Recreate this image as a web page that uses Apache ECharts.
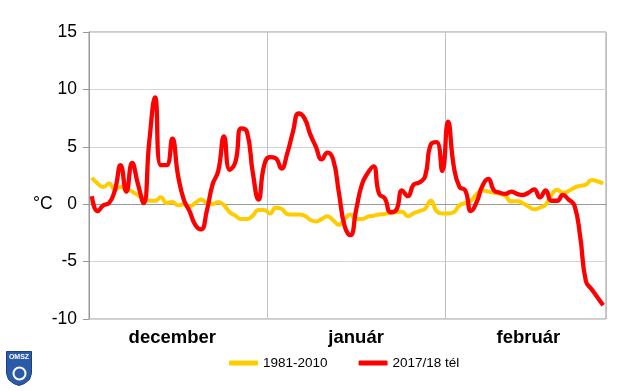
<!DOCTYPE html>
<html><head><meta charset="utf-8">
<script src="https://cdn.jsdelivr.net/npm/echarts@6/dist/echarts.min.js"></script>
<style>html,body{margin:0;padding:0;background:#fff}#c{width:640px;height:391px}</style>
</head><body><div id="c"></div>
<script>
const months = ['december', 'január', 'február'];
const monthDays = [31, 31, 28];
const monthLabelIndex = [14, 46, 76];
const seriesNames = ['1981-2010', '2017/18 tél'];

const normalDec = [2.3, 1.8, 1.5, 1.8, 1.3, 1.5, 1.3, 1.1, 0.8, 0.5, 0.3, 0.3, 0.6, 0.1, 0.2, -0.1, 0.0, -0.2, 0.1, 0.4, 0.1, 0.0, 0.2, -0.1, -0.7, -1.0, -1.3, -1.3, -1.0, -0.5, -0.5];
const normalJan = [-0.8, -0.3, -0.4, -0.85, -0.9, -0.9, -1.0, -1.35, -1.5, -1.3, -1.05, -1.4, -1.8, -1.3, -0.9, -1.3, -1.3, -1.1, -1.0, -0.9, -0.85, -0.75, -0.7, -0.65, -1.05, -0.8, -0.6, -0.4, 0.3, -0.6, -0.8];
const normalFeb = [-0.8, -0.7, -0.1, 0.1, 0.3, 0.9, 1.2, 1.1, 1.0, 0.9, 0.7, 0.25, 0.25, 0.1, -0.2, -0.45, -0.3, -0.05, 0.8, 1.25, 1.0, 1.15, 1.45, 1.6, 1.7, 2.1, 2.0, 1.8];

const winterDec = [0.7, -0.6, -0.1, 0.1, 1.2, 3.4, 1.1, 3.6, 1.8, 0.1, 5.5, 9.3, 3.4, 3.4, 5.7, 2.5, 0.4, -0.6, -1.8, -2.2, -0.6, 1.7, 2.9, 5.9, 3.0, 3.7, 6.6, 6.3, 2.8, 0.4, 3.4];
const winterJan = [4.1, 4.0, 3.1, 4.4, 6.3, 7.9, 7.5, 6.1, 5.0, 3.9, 4.5, 3.9, 1.0, -1.9, -2.7, -0.5, 1.7, 2.7, 3.3, 0.9, 0.5, -0.7, -0.5, 1.2, 0.7, 1.7, 1.9, 2.4, 5.2, 5.4, 2.9];
const winterFeb = [7.2, 3.3, 1.5, 1.2, -0.6, 0.2, 1.6, 2.2, 1.2, 1.0, 0.9, 1.1, 0.9, 0.8, 1.0, 1.3, 0.6, 1.2, 0.3, 0.3, 0.8, 0.4, -0.1, -2.8, -6.7, -7.4, -8.1, -8.8];

const yMin = -10, yMax = 15, yStep = 5;

const normal = normalDec.concat(normalJan, normalFeb);
const winter = winterDec.concat(winterJan, winterFeb);

const categories = [];
const monthStart = [];
months.forEach((m, k) => {
  monthStart.push(categories.length);
  for (let d = 1; d <= monthDays[k]; d++) categories.push(m + ' ' + d);
});

const chart = echarts.init(document.getElementById('c'), null, { renderer: 'canvas' });
const FONT = 'Liberation Sans, Arial, sans-serif';
chart.setOption({
  backgroundColor: '#ffffff',
  animation: false,
  textStyle: { fontFamily: FONT },
  grid: { left: 89, right: 34, top: 32, bottom: 72, show: true, borderColor: '#999999', borderWidth: 1, backgroundColor: 'transparent' },
  legend: {
    left: 229, top: 356, padding: 0,
    itemWidth: 29, itemHeight: 5, itemGap: 31,
    icon: 'roundRect',
    textStyle: { fontFamily: FONT, fontSize: 13.5, color: '#000' },
    data: seriesNames
  },
  xAxis: {
    type: 'category',
    data: categories,
    boundaryGap: true,
    axisLine: { lineStyle: { color: '#999999', width: 1 } },
    axisTick: { show: false },
    axisLabel: {
      interval: (i) => monthLabelIndex.includes(i),
      formatter: (v) => v.split(' ')[0],
      fontFamily: FONT, fontSize: 18.5, fontWeight: 'bold', color: '#000', margin: 9
    },
    splitLine: {
      show: true,
      interval: (i) => monthStart.includes(i) && i > 0,
      lineStyle: { color: '#c0c0c0', width: 1 }
    }
  },
  yAxis: {
    type: 'value',
    min: yMin, max: yMax, interval: yStep,
    axisLine: { show: true, lineStyle: { color: '#999999', width: 1 } },
    axisTick: { show: true, length: 6, lineStyle: { color: '#999999' } },
    axisLabel: {
      fontFamily: FONT, fontSize: 17.5, color: '#000', margin: 12,
      formatter: (v) => v === 0 ? '°C   0' : String(v)
    },
    splitLine: { lineStyle: { color: '#d4d4d4', width: 1 } }
  },
  series: [
    {
      name: seriesNames[0], type: 'line', data: normal, smooth: 0.5,
      showSymbol: false, symbol: 'none',
      lineStyle: { color: '#ffcc00', width: 4 }, itemStyle: { color: '#ffcc00' }
    },
    {
      name: seriesNames[1], type: 'line', data: winter, smooth: 0.5,
      showSymbol: false, symbol: 'none',
      lineStyle: { color: '#ff0000', width: 4.3 }, itemStyle: { color: '#ff0000' }
    }
  ],
  graphic: [
    {
      type: 'group', left: 6, top: 351,
      children: [
        { type: 'polygon', shape: { points: [[0,0],[25,0],[25,22],[23,28],[18,32],[12.5,34],[7,32],[2,28],[0,22]] }, style: { fill: '#2a5aa8', stroke: '#1b3f80', lineWidth: 1 } },
        { type: 'text', x: 12.5, y: 2, style: { text: 'OMSZ', fill: '#ffffff', font: 'bold 7px Liberation Sans', textAlign: 'center' } },
        { type: 'circle', shape: { cx: 13, cy: 22, r: 6 }, style: { fill: 'none', stroke: '#ffffff', lineWidth: 2 } }
      ]
    }
  ]
});
</script>
</body></html>
